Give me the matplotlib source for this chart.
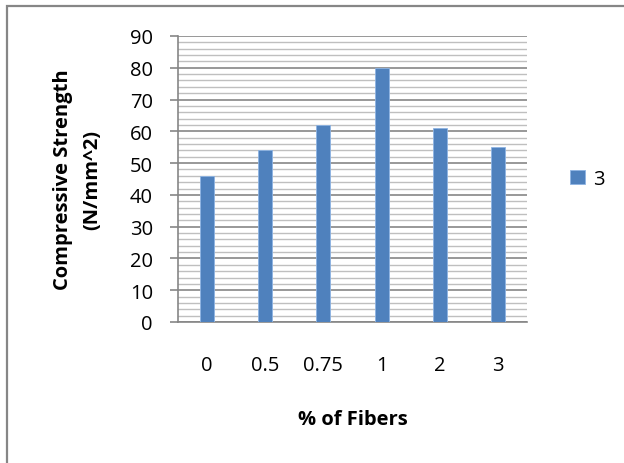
"""
Compressive strength vs. fiber content, Excel-style column chart
"""
import numpy as np
import matplotlib.pyplot as plt
from matplotlib.patches import Rectangle
from matplotlib.ticker import MultipleLocator

fiber_pct = ['0', '0.5', '0.75', '1', '2', '3']
strength = [46, 54, 62, 80, 61, 55]
series_name = '3'

plt.rcParams['font.family'] = ['Open Sans', 'DejaVu Sans']

fig = plt.figure(figsize=(6.24, 4.64), dpi=100)
ax = fig.add_axes([178 / 624, 1 - 323 / 464, 349 / 624, 286 / 464])

x = np.arange(len(fiber_pct))
ax.bar(x, strength, width=0.24, color='#4f81bd', edgecolor='#8eb4e3',
       linewidth=0.6, zorder=3, label=series_name)

ax.set_xlim(-0.5, len(fiber_pct) - 0.5)
ax.set_ylim(0, 90)
ax.yaxis.set_major_locator(MultipleLocator(10))
ax.yaxis.set_minor_locator(MultipleLocator(2))
ax.grid(which='major', axis='y', color='#868686', linewidth=1.2, zorder=1)
ax.grid(which='minor', axis='y', color='#bfbfbf', linewidth=1.0, zorder=1)

for side in ['top', 'right']:
    ax.spines[side].set_visible(False)
for side in ['left', 'bottom']:
    ax.spines[side].set_color('#868686')
    ax.spines[side].set_linewidth(1.2)

ax.set_xticks(x)
ax.set_xticklabels(fiber_pct)
ax.tick_params(axis='x', length=0, pad=24, labelsize=14.5, colors='black')
ax.tick_params(axis='y', which='major', length=6, color='#868686', width=1.2,
               labelsize=14.5, pad=12)
ax.tick_params(axis='y', which='minor', length=0)

ax.set_ylabel('Compressive Strength\n(N/mm^2)', fontsize=14.5, fontweight='bold',
              labelpad=20, linespacing=1.6)
ax.set_xlabel('% of Fibers', fontsize=14.5, fontweight='bold', labelpad=24)

ax.legend(loc='center left', bbox_to_anchor=(1.07, 0.5), frameon=False,
          fontsize=14.5, handlelength=0.75, handleheight=0.75, handletextpad=0.4)

# outer chart frame, running off the right and bottom edges
fig.patches.append(Rectangle((7 / 624, -10 / 464), 640 / 624, 467 / 464,
                             transform=fig.transFigure, fill=False,
                             edgecolor='#868686', linewidth=1.6))

fig.savefig('out.png', dpi=100)
